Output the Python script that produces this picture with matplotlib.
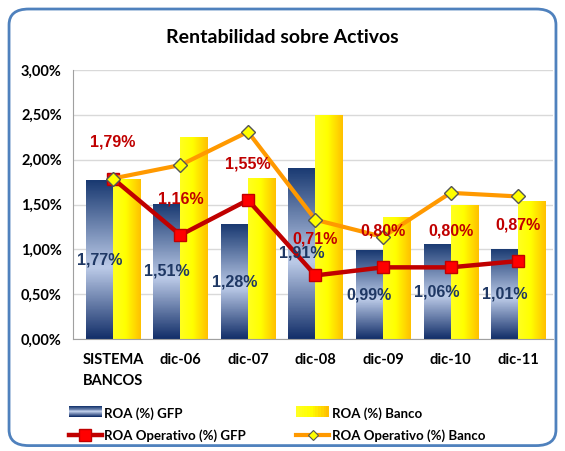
import matplotlib
matplotlib.use("Agg")
import matplotlib.pyplot as plt
import numpy as np
from matplotlib.colors import LinearSegmentedColormap
from matplotlib.patches import FancyBboxPatch, Rectangle
from matplotlib.lines import Line2D
from matplotlib.legend_handler import HandlerBase

# data
categorias = ["SISTEMA\nBANCOS", "dic-06", "dic-07", "dic-08", "dic-09", "dic-10", "dic-11"]
roa_gfp = [1.77, 1.51, 1.28, 1.91, 0.99, 1.06, 1.01]
roa_banco = [1.78, 2.25, 1.80, 2.50, 1.36, 1.50, 1.54]
roa_op_gfp = [1.79, 1.16, 1.55, 0.71, 0.80, 0.80, 0.87]
roa_op_banco = [1.79, 1.94, 2.31, 1.33, 1.14, 1.63, 1.59]

def pct(v):
    return f"{v:.2f}%".replace(".", ",")

plt.rcParams["font.family"] = ["Lato", "DejaVu Sans"]

blue_cm = LinearSegmentedColormap.from_list(
    "azul", [(0.0, "#1a3a72"), (0.55, "#bccbe8"), (1.0, "#14306a")])
yellow_cm = LinearSegmentedColormap.from_list(
    "amarillo", [(0.0, "#ffff20"), (0.45, "#ffff00"), (1.0, "#ffc000")])

fig = plt.figure(figsize=(5.65, 4.51), dpi=100)
fig.patches.append(FancyBboxPatch((0.016, 0.012), 0.968, 0.968,
                                  boxstyle="round,pad=0,rounding_size=0.035",
                                  transform=fig.transFigure, fill=False,
                                  edgecolor="#4f81bd", linewidth=2.0))

ax = fig.add_axes([0.129, 0.248, 0.850, 0.597])
x = np.arange(len(categorias))
w = 0.40

def gradient_bars(bars, cmap, vertical):
    for b in bars:
        x0, y0 = b.get_x(), b.get_y()
        bw, bh = b.get_width(), b.get_height()
        if vertical:
            img = np.linspace(0, 1, 100).reshape(-1, 1)
        else:
            img = np.linspace(0, 1, 100).reshape(1, -1)
        im = ax.imshow(img, cmap=cmap, aspect="auto", origin="upper",
                       extent=(x0, x0 + bw, y0, y0 + bh), zorder=2)
        im.set_clip_path(b)
        b.set_facecolor("none")

b1 = ax.bar(x - w / 2, roa_gfp, w, zorder=2, edgecolor="none")
b2 = ax.bar(x + w / 2, roa_banco, w, zorder=2, edgecolor="none")
gradient_bars(b1, blue_cm, True)
gradient_bars(b2, yellow_cm, False)

ax.plot(x, roa_op_gfp, color="#c00000", lw=3.2, marker="s", ms=9,
        mfc="#ff0000", mec="#c00000", zorder=4)
ax.plot(x, roa_op_banco, color="#ff9900", lw=3.0, marker="D", ms=7,
        mfc="#ffff00", mec="#555555", mew=1.0, zorder=5)

for xi, v in zip(x, roa_gfp):
    ax.text(xi - w / 2, v / 2, pct(v), ha="center", va="center",
            color="#1f3864", fontsize=11.5, fontweight="bold",
            family="Liberation Sans", zorder=6)
for xi, v in zip(x, roa_op_gfp):
    ax.annotate(pct(v), (xi, v), xytext=(0, 26), textcoords="offset points",
                ha="center", va="center", color="#c00000", fontsize=11.5,
                fontweight="bold", family="Liberation Sans", zorder=6)

ax.set_ylim(0, 3.0)
ax.set_xlim(-0.593, 6.52)
ax.set_yticks(np.arange(0, 3.01, 0.5))
ax.set_yticklabels([pct(t) for t in np.arange(0, 3.01, 0.5)],
                   fontsize=10.5, fontweight="bold")
ax.set_xticks(x)
ax.set_xticklabels(categorias, fontsize=10.5, fontweight="bold", linespacing=1.6)
ax.tick_params(axis="both", length=0, pad=8)
ax.tick_params(axis="x", pad=10)
ax.grid(axis="y", color="#d9d9d9", lw=1.0, zorder=0)
ax.set_axisbelow(True)
for s in ["top", "right"]:
    ax.spines[s].set_visible(False)
ax.spines["left"].set_color("#a0a0a0")
ax.spines["bottom"].set_color("#a0a0a0")

fig.text(0.5, 0.916, "Rentabilidad sobre Activos", ha="center", va="center",
         fontsize=14, fontweight="bold")

# legend
class GradHandler(HandlerBase):
    def __init__(self, cmap, vertical):
        super().__init__()
        self.cmap = cmap
        self.vertical = vertical

    def create_artists(self, legend, orig, xd, yd, width, height, fontsize, trans):
        arts = []
        n = 12
        for i in range(n):
            if self.vertical:
                r = Rectangle((xd, yd + height * i / n), width, height / n,
                              facecolor=self.cmap(1 - i / (n - 1)), edgecolor="none",
                              transform=trans)
            else:
                r = Rectangle((xd + width * i / n, yd), width / n, height,
                              facecolor=self.cmap(i / (n - 1)), edgecolor="none",
                              transform=trans)
            arts.append(r)
        return arts

h_blue = Rectangle((0, 0), 1, 1)
h_yel = Rectangle((0, 1), 1, 1)
h_red = Line2D([], [], color="#c00000", lw=3.2, marker="s", ms=8,
               mfc="#ff0000", mec="#c00000")
h_or = Line2D([], [], color="#ff9900", lw=3.0, marker="D", ms=5,
              mfc="#ffff00", mec="#555555", mew=0.8)
leg = fig.legend([h_blue, h_red, h_yel, h_or],
                 ["ROA (%) GFP", "ROA Operativo (%) GFP",
                  "ROA (%) Banco", "ROA Operativo (%) Banco"],
                 handler_map={h_blue: GradHandler(blue_cm, True),
                              h_yel: GradHandler(yellow_cm, False)},
                 ncol=2, loc="center", bbox_to_anchor=(0.49, 0.058),
                 frameon=False, prop={"size": 9.5, "weight": "bold"},
                 handlelength=2.5, handleheight=0.9, handletextpad=0.2,
                 columnspacing=3.8, labelspacing=0.75)

fig.savefig("out.png", dpi=100)
